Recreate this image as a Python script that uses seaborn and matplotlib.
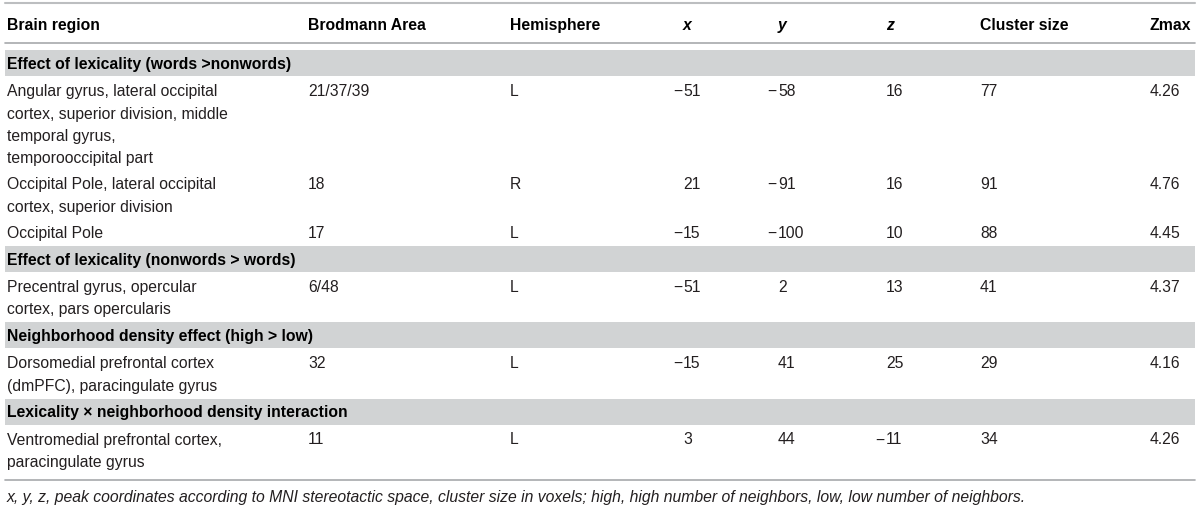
import matplotlib
matplotlib.use("Agg")
import matplotlib.pyplot as plt
from matplotlib.patches import Rectangle
import seaborn as sns

# Table content
headers = ["Brain region", "Brodmann Area", "Hemisphere", "x", "y", "z", "Cluster size", "Zmax"]
sections = [
    "Effect of lexicality (words >nonwords)",
    "Effect of lexicality (nonwords > words)",
    "Neighborhood density effect (high > low)",
    "Lexicality \u00d7 neighborhood density interaction",
]
row_section = [0, 0, 0, 1, 2, 3]
regions = [
    ["Angular gyrus, lateral occipital", "cortex, superior division, middle",
     "temporal gyrus,", "temporooccipital part"],
    ["Occipital Pole, lateral occipital", "cortex, superior division"],
    ["Occipital Pole"],
    ["Precentral gyrus, opercular", "cortex, pars opercularis"],
    ["Dorsomedial prefrontal cortex", "(dmPFC), paracingulate gyrus"],
    ["Ventromedial prefrontal cortex,", "paracingulate gyrus"],
]
brodmann = ["21/37/39", "18", "17", "6/48", "32", "11"]
hemisphere = ["L", "R", "L", "L", "L", "L"]
x_mni = [-51, 21, -15, -51, -15, 3]
y_mni = [-58, -91, -100, 2, 41, 44]
z_mni = [16, 16, 10, 13, 25, -11]
cluster = [77, 91, 88, 41, 29, 34]
zmax = [4.26, 4.76, 4.45, 4.37, 4.16, 4.26]
footnote = ("x, y, z, peak coordinates according to MNI stereotactic space, cluster size in voxels; "
            "high, high number of neighbors, low, low number of neighbors.")

sns.set_theme(style="white")
plt.rcParams["font.family"] = ["Liberation Sans", "DejaVu Sans"]

W, H = 1200, 511
fig = plt.figure(figsize=(12, 5.11), dpi=100)
ax = fig.add_axes([0, 0, 1, 1])
ax.set_xlim(0, W)
ax.set_ylim(H, 0)
ax.axis("off")

col_x = [7, 308, 510, 683, 778, 886, 980, 1150]
left, right = 5, 1195
fs = 11.3
txt = "#231f20"
band_col = "#d1d3d4"
line_col = "#a7a9ac"

LINE = 22.4
ROW_GAP = 26
BAND_GAP = 27
BASE = 5.6  # half cap height, so text sits centred on its line


def put(xx, yy, s, **kw):
    kw.setdefault("color", txt)
    ax.text(xx, yy + BASE, s, ha=kw.pop("ha", "left"), va="baseline", fontsize=fs, **kw)


def num(col, yy, v):
    put(col, yy, str(abs(v)))
    if v < 0:
        put(col - 1, yy, "\u2212", ha="right")


# header
ax.plot([left, right], [3.5, 3.5], color="#bcbec0", lw=1.5)
for i, h in enumerate(headers):
    style = "italic" if h in ("x", "y", "z") else "normal"
    put(col_x[i], 24, h, fontweight="bold", fontstyle=style, color="black")
ax.plot([left, right], [43, 43], color=line_col, lw=1.2)

yy = 63.5
cur = -1
for r in range(len(regions)):
    if row_section[r] != cur:
        cur = row_section[r]
        if r > 0:
            yy += BAND_GAP
        ax.add_patch(Rectangle((left, yy - 13), right - left, 26, color=band_col, lw=0))
        put(col_x[0], yy, sections[cur], fontweight="bold", color="black")
        yy += BAND_GAP
    elif r > 0:
        yy += ROW_GAP
    top = yy
    for k, line in enumerate(regions[r]):
        put(col_x[0], yy + k * LINE, line)
    put(col_x[1], top, brodmann[r])
    put(col_x[2], top, hemisphere[r])
    num(col_x[3], top, x_mni[r])
    num(col_x[4], top, y_mni[r])
    num(col_x[5], top, z_mni[r])
    put(col_x[6], top, str(cluster[r]))
    put(col_x[7], top, f"{zmax[r]:.2f}")
    yy += (len(regions[r]) - 1) * LINE

ax.plot([left, right], [480, 480], color=line_col, lw=1.2)
put(col_x[0], 496, footnote, fontstyle="italic")

fig.savefig("out.png", dpi=100, facecolor="white")
